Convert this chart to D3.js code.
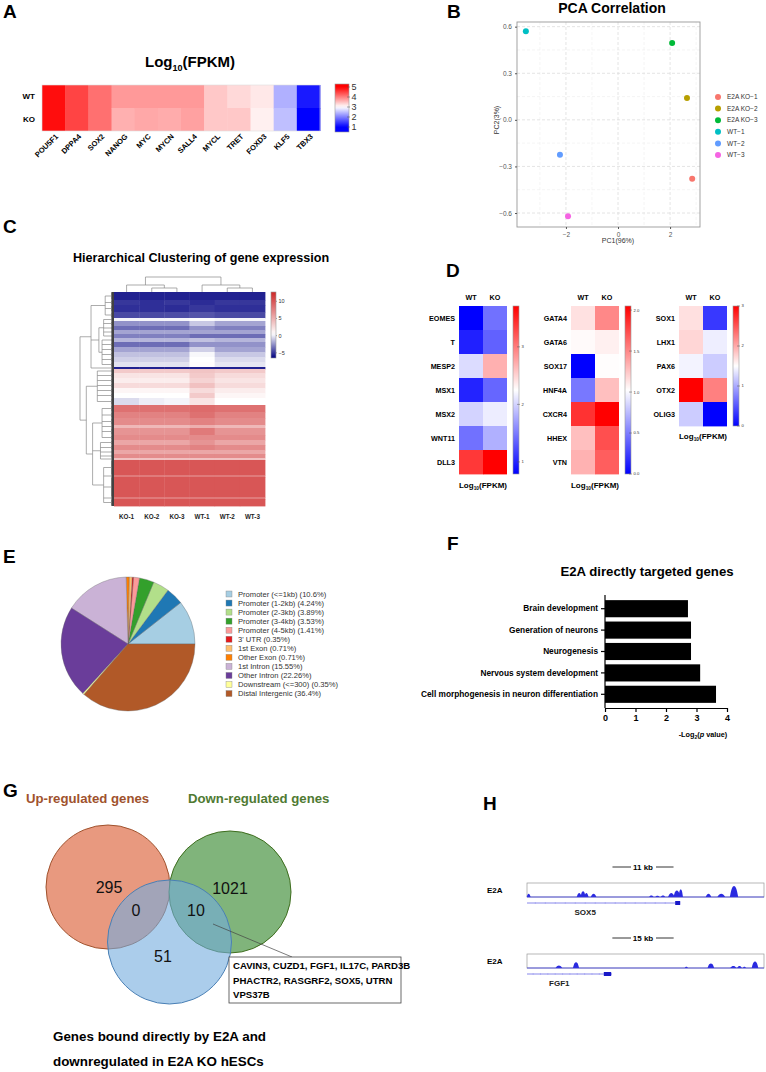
<!DOCTYPE html>
<html><head><meta charset="utf-8">
<script src="https://cdn.jsdelivr.net/npm/d3@7"></script>
<style>body{margin:0;background:#fff}svg{display:block;font-family:"Liberation Sans",Arial,Helvetica,sans-serif}</style>
</head><body>
<svg id="fig" width="766" height="1072"></svg>
<script>
// ---------------- DATA ----------------
// Panel A
const genesA = ["POU5F1","DPPA4","SOX2","NANOG","MYC","MYCN","SALL4","MYCL","TRET","FOXD3","KLF5","TBX3"];
const wtA = [4.9,4.47,4.12,3.8,3.8,3.8,3.8,3.43,3.3,3.18,2.38,1.2];
const koA = [4.9,4.47,4.12,3.62,3.68,3.65,3.74,3.43,3.43,3.12,2.5,1.0];
const ticksA = [1,2,3,4,5];
// Panel B
const pcaSamples = ["E2A KO\u22121","E2A KO\u22122","E2A KO\u22123","WT\u22121","WT\u22122","WT\u22123"];
const pc1 = [2.85,2.65,2.08,-3.54,-2.23,-1.92];
const pc2 = [-0.38,0.14,0.494,0.571,-0.225,-0.62];
const pcaColors = ["#F8766D","#B79F00","#00BA38","#00BFC4","#619CFF","#F564E3"];
const pc1Ticks = [-2,0,2];
const pc2Ticks = [-0.6,-0.3,0,0.3,0.6];
// Panel C (bands of genes: gene count, values for KO-1..WT-3)
const samplesC = ["KO-1","KO-2","KO-3","WT-1","WT-2","WT-3"];
const bandRows = [8,5,7,6,3,5,4,4,4,4,5,5,5,5,5,2,4,5,5,5,5,5,7,7,6,7,3,7,5,5,5,4,4,2,15,2,20,2,7];
const bandVals = [
 [-5.6,-5.6,-5.6,-5.6,-5.6,-5.6],[-5.0,-5.2,-5.0,-5.3,-5.0,-5.0],[-5.2,-5.2,-5.3,-5.0,-5.2,-5.2],[-4.5,-4.5,-4.4,-4.2,-4.5,-4.5],
 [0.2,0.2,0.2,0.4,0.2,0.2],[-2.5,-2.5,-2.5,-1.0,-2.0,-2.0],[-3.5,-3.5,-3.5,-2.5,-3.0,-3.0],[-2.0,-2.0,-2.0,-2.0,-2.0,-2.0],
 [-3.0,-3.0,-3.0,-3.5,-3.5,-3.5],[-1.5,-1.5,-1.5,-1.2,-1.5,-1.5],[-3.5,-3.5,-3.5,-2.5,-2.5,-2.5],[-2.0,-2.0,-2.0,-0.8,-2.0,-2.0],
 [-1.2,-1.2,-1.2,0.3,-1.0,-1.0],[-0.8,-0.8,-0.8,0.5,-0.5,-0.5],[-0.3,-0.3,-0.3,0.6,-0.2,-0.2],[-5.6,-5.6,-5.6,-5.6,-5.6,-5.6],
 [3.5,3.5,3.5,3.8,3.5,3.5],[2.0,2.0,2.0,3.5,2.5,2.5],[1.5,1.5,1.5,3.0,2.0,2.0],[2.5,2.5,2.5,4.0,2.5,2.5],
 [1.0,1.0,1.0,2.5,1.5,1.5],[0.5,0.5,0.5,3.5,1.0,1.0],[-0.5,0.0,0.2,2.0,0.5,0.5],[8.5,8.5,8.5,8.8,8.5,8.5],
 [7.5,7.5,7.5,8.5,7.5,7.5],[7.0,7.0,7.0,7.5,7.0,7.0],[4.5,4.5,4.5,5.0,4.5,4.5],[6.5,6.5,6.5,8.0,6.5,6.5],
 [7.0,7.0,7.0,7.0,7.0,7.0],[5.5,5.5,5.5,6.5,5.5,5.5],[7.0,7.0,7.0,7.5,7.0,7.0],[5.5,5.5,5.5,5.5,5.5,5.5],
 [7.0,7.0,7.0,7.0,7.0,7.0],[4.0,4.0,4.0,4.0,4.0,4.0],[10,10,10,10,10,10],[8.0,8.0,8.0,8.0,8.0,8.0],
 [10,10,10,10,10,10],[8.0,8.0,8.0,8.0,8.0,8.0],[10,10,10,10,10,10]];
const ticksC = [-5,0,5,10];
const rowTree = {h:10,c:[
  {h:6.5,c:[{h:2,c:[0,1,2,3]},{h:4,c:[{h:2.5,c:[4,5,6,7,8]},{h:3,c:[9,10,11,12,13,14]}]},15]},
  {h:8,c:[{h:4.5,c:[16,17,18,19,20,21,22]},{h:6,c:[{h:3,c:[23,24,25,26,27,28]},{h:3.5,c:[29,30,31,32,33]},{h:2.5,c:[34,35,36,37,38]}]}]}]};
const colTree = {h:3,c:[{h:1.4,c:[0,{h:0.8,c:[1,2]}]},{h:1.4,c:[3,{h:0.8,c:[4,5]}]}]};
// Panel D
const genesD1 = ["EOMES","T","MESP2","MSX1","MSX2","WNT11","DLL3"];
const wtD1 = [0.8,0.98,2.05,1.0,2.0,1.44,3.38];
const koD1 = [1.44,1.35,2.7,1.38,2.15,1.8,3.7];
const genesD2 = ["GATA4","GATA6","SOX17","HNF4A","CXCR4","HHEX","VTN"];
const wtD2 = [1.14,1.04,0.0,0.48,1.85,1.28,1.33];
const koD2 = [1.5,1.08,1.03,1.28,2.05,1.73,1.67];
const genesD3 = ["SOX1","LHX1","PAX6","OTX2","OLIG3"];
const wtD3 = [1.68,1.74,1.43,3.0,1.2];
const koD3 = [0.33,1.4,1.2,2.25,0.0];
const ticksD1 = [1,2,3], ticksD2 = [0,0.5,1.0,1.5,2.0], ticksD3 = [0,1,2,3];
// Panel E
const annoLabels = ["Promoter (<=1kb)","Promoter (1-2kb)","Promoter (2-3kb)","Promoter (3-4kb)","Promoter (4-5kb)","3' UTR","1st Exon","Other Exon","1st Intron","Other Intron","Downstream (<=300)","Distal Intergenic"];
const annoPct = [10.6,4.24,3.89,3.53,1.41,0.35,0.71,0.71,15.55,22.26,0.35,36.4];
const annoColors = ["#A6CEE3","#1F78B4","#B2DF8A","#33A02C","#FB9A99","#E31A1C","#FDBF6F","#FF7F00","#CAB2D6","#6A3D9A","#FFFF99","#B15928"];
// Panel F
const goTerms = ["Brain development","Generation of neurons","Neurogenesis","Nervous system development","Cell morphogenesis in neuron differentiation"];
const goScores = [2.72,2.82,2.82,3.12,3.64];
const goTicks = [0,1,2,3,4];
// Panel G
const vennSets = ["Up-regulated genes","Down-regulated genes","E2A bound"];
const vennCounts = {up:295, down:1021, upBound:0, downBound:10, bound:51};
const overlapGenes = ["CAVIN3, CUZD1, FGF1, IL17C, PARD3B","PHACTR2, RASGRF2, SOX5, UTRN","VPS37B"];
// Panel H (peak centre kb, width kb, relative height)
const sox5Peaks = [[0.3,0.7,0.25],[9.4,0.9,0.3],[10.1,0.9,0.45],[10.7,0.8,0.3],[12.0,1.0,0.25],[22.4,0.8,0.12],[23.5,0.8,0.1],[24.5,0.8,0.12],[26.0,1.2,0.3],[27.0,1.2,0.5],[27.7,0.8,0.6],[32.7,1.0,0.25],[35.0,1.4,0.25],[37.3,1.5,0.85]];
const fgf1Peaks = [[7.8,1.6,0.2],[12.0,1.5,0.45],[39.0,0.8,0.1],[45.0,1.6,0.35],[50.5,1.6,0.15],[52.0,1.2,0.15],[53.2,0.8,0.1],[55.8,1.6,0.5]];
const sox5Window = 42.7, fgf1Window = 58;
const sox5Gene = {start:0, end:27.6, exonStart:26.7, exonEnd:27.6};
const fgf1Gene = {start:0, end:20.8, exonStart:18.8, exonEnd:20.6};

// ---------------- DRAW ----------------
const svg = d3.select("#fig");
const blueWhiteRed = ["#0000ff","#ffffff","#ff0000"];

function panelLabel(t,x,y){svg.append("text").attr("x",x).attr("y",y).attr("font-size",19).attr("font-weight","bold").text(t);}
panelLabel("A",3,18); panelLabel("B",447,18); panelLabel("C",3,233); panelLabel("D",446,277);
panelLabel("E",3,563); panelLabel("F",447,550); panelLabel("G",3,797); panelLabel("H",483,810);

function log10Label(g,x,y,size){
  const t=g.append("text").attr("x",x).attr("y",y).attr("text-anchor","middle").attr("font-weight","bold").attr("font-size",size);
  t.append("tspan").text("Log");
  t.append("tspan").attr("font-size",size*0.6).attr("dy",size*0.25).text("10");
  t.append("tspan").attr("dy",-size*0.25).text("(FPKM)");
}

function colorbar(g,x,w,y0,y1,domain,color,ticks,fmt,fs,id,tickLen){
  const ys=d3.scaleLinear().domain(domain).range([y1,y0]);
  const grad=svg.append("defs").append("linearGradient").attr("id",id).attr("x1",0).attr("x2",0).attr("y1",1).attr("y2",0);
  d3.range(0,1.0001,0.05).forEach(f=>{grad.append("stop").attr("offset",f).attr("stop-color",color(domain[0]+f*(domain[1]-domain[0])));});
  g.append("rect").attr("x",x).attr("y",y0).attr("width",w).attr("height",y1-y0).attr("fill",`url(#${id})`).attr("stroke","#999").attr("stroke-width",0.6);
  ticks.forEach(t=>{
    g.append("line").attr("x1",x+w-tickLen).attr("x2",x+w+1).attr("y1",ys(t)).attr("y2",ys(t)).attr("stroke","#555").attr("stroke-width",0.5);
    g.append("text").attr("x",x+w+2.5).attr("y",ys(t)).attr("dy","0.35em").attr("font-size",fs).attr("fill","#333").text(fmt(t));
  });
}

// ===== Panel A =====
{
  const g=svg.append("g");
  const x=d3.scaleBand().domain(genesA).range([42,320]);
  const y=d3.scaleBand().domain(["WT","KO"]).range([85,131]);
  const col=d3.scaleLinear().domain([1,3,5]).range(blueWhiteRed).clamp(true);
  log10Label(g,190,67,15);
  genesA.forEach((gn,i)=>{
    g.append("rect").attr("x",x(gn)).attr("y",y("WT")).attr("width",x.bandwidth()+0.5).attr("height",y.bandwidth()+0.5).attr("fill",col(wtA[i]));
    g.append("rect").attr("x",x(gn)).attr("y",y("KO")).attr("width",x.bandwidth()+0.5).attr("height",y.bandwidth()).attr("fill",col(koA[i]));
    g.append("text").attr("transform",`translate(${x(gn)+x.bandwidth()/2+5},${137}) rotate(-45)`).attr("text-anchor","end")
      .attr("font-size",7.5).attr("font-weight","bold").text(gn);
  });
  g.append("rect").attr("x",42).attr("y",85).attr("width",278).attr("height",46).attr("fill","none").attr("stroke","#ddd").attr("stroke-width",0.6);
  ["WT","KO"].forEach(r=>g.append("text").attr("x",35).attr("y",y(r)+y.bandwidth()/2).attr("dy","0.35em").attr("text-anchor","end").attr("font-size",8).attr("font-weight","bold").text(r));
  colorbar(g,335,14,84,132,[0.5,5.3],col,ticksA,d3.format("d"),9,"gA",2);
}

// ===== Panel B =====
{
  const g=svg.append("g");
  const x=d3.scaleLinear().domain([-3.88,3.15]).range([517,700]);
  const y=d3.scaleLinear().domain([-0.69,0.63]).range([227,22]);
  g.append("text").attr("x",612).attr("y",13).attr("text-anchor","middle").attr("font-size",14).attr("font-weight","bold").text("PCA Correlation");
  const minorX=[-3,-1,1,3], minorY=[-0.45,-0.15,0.15,0.45];
  minorX.forEach(v=>g.append("line").attr("x1",x(v)).attr("x2",x(v)).attr("y1",22).attr("y2",227).attr("stroke","#eee").attr("stroke-dasharray","3,2").attr("stroke-width",0.6));
  minorY.forEach(v=>g.append("line").attr("x1",517).attr("x2",700).attr("y1",y(v)).attr("y2",y(v)).attr("stroke","#eee").attr("stroke-dasharray","3,2").attr("stroke-width",0.6));
  pc1Ticks.forEach(v=>g.append("line").attr("x1",x(v)).attr("x2",x(v)).attr("y1",22).attr("y2",227).attr("stroke","#ddd").attr("stroke-dasharray","3,2").attr("stroke-width",0.8));
  pc2Ticks.forEach(v=>g.append("line").attr("x1",517).attr("x2",700).attr("y1",y(v)).attr("y2",y(v)).attr("stroke","#ddd").attr("stroke-dasharray","3,2").attr("stroke-width",0.8));
  g.append("rect").attr("x",517).attr("y",22).attr("width",183).attr("height",205).attr("fill","none").attr("stroke","#999").attr("stroke-width",0.9);
  const ax=g.append("g").attr("transform","translate(0,227)").call(d3.axisBottom(x).tickValues(pc1Ticks).tickSize(2).tickFormat(d3.format("d")));
  const ay=g.append("g").attr("transform","translate(517,0)").call(d3.axisLeft(y).tickValues(pc2Ticks).tickSize(2).tickFormat(d3.format(".1f")));
  [ax,ay].forEach(a=>{a.select(".domain").remove();a.selectAll("line").attr("stroke","#555");a.selectAll("text").attr("font-size",6.5).attr("fill","#555").attr("font-family",null);});
  g.append("text").attr("x",618).attr("y",243).attr("text-anchor","middle").attr("font-size",7).attr("fill","#333").text("PC1(96%)");
  g.append("text").attr("transform","translate(499,120) rotate(-90)").attr("text-anchor","middle").attr("font-size",7).attr("fill","#333").text("PC2(3%)");
  pcaSamples.forEach((s,i)=>{
    g.append("circle").attr("cx",x(pc1[i])).attr("cy",y(pc2[i])).attr("r",3).attr("fill",pcaColors[i]);
    g.append("circle").attr("cx",718).attr("cy",97+i*11.6).attr("r",3).attr("fill",pcaColors[i]);
    g.append("text").attr("x",727).attr("y",97+i*11.6).attr("dy","0.35em").attr("font-size",6.5).attr("fill","#333").text(s);
  });
}

// ===== Panel C =====
{
  const g=svg.append("g");
  g.append("text").attr("x",201).attr("y",262).attr("text-anchor","middle").attr("font-size",12.6).attr("font-weight","bold").text("Hierarchical Clustering of gene expression");
  const x=d3.scaleBand().domain(samplesC).range([114,265]);
  const total=d3.sum(bandRows);
  const y=d3.scaleLinear().domain([0,total]).range([292,506]);
  const col=d3.scaleLinear().domain([-6.5,0.5,12.7]).range(["#000080","#ffffff","#CD2626"]).clamp(true);
  let cum=0; const bandCenter=[];
  bandRows.forEach((n,b)=>{
    bandVals[b].forEach((v,j)=>{
      g.append("rect").attr("x",x(samplesC[j])).attr("y",y(cum)).attr("width",x.bandwidth()+0.4).attr("height",y(cum+n)-y(cum)+0.4).attr("fill",col(v));
    });
    bandCenter.push(y(cum+n/2));
    // leaf stubs for each gene row
    for(let k=0;k<n;k++){
      g.append("line").attr("x1",111.5).attr("x2",114).attr("y1",y(cum+k+0.5)).attr("y2",y(cum+k+0.5)).attr("stroke","#111").attr("stroke-width",0.8);
    }
    // small sub-branches joining gene rows of the band
    g.append("line").attr("x1",111.5).attr("x2",111.5).attr("y1",y(cum+0.5)).attr("y2",y(cum+n-0.5)).attr("stroke","#555").attr("stroke-width",0.6);
    cum+=n;
  });
  // row dendrogram
  const hx=d3.scaleLinear().domain([0,10]).range([111.5,80]);
  function drawRow(node){
    if(typeof node==="number") return {pos:bandCenter[node],h:0};
    const kids=node.c.map(drawRow);
    const ps=kids.map(k=>k.pos);
    kids.forEach(k=>g.append("line").attr("x1",hx(k.h)).attr("x2",hx(node.h)).attr("y1",k.pos).attr("y2",k.pos).attr("stroke","#888").attr("stroke-width",0.7));
    g.append("line").attr("x1",hx(node.h)).attr("x2",hx(node.h)).attr("y1",d3.min(ps)).attr("y2",d3.max(ps)).attr("stroke","#888").attr("stroke-width",0.7);
    return {pos:d3.mean([d3.min(ps),d3.max(ps)]),h:node.h};
  }
  drawRow(rowTree);
  // column dendrogram
  const hy=d3.scaleLinear().domain([0,3]).range([292,277]);
  function drawCol(node){
    if(typeof node==="number") return {pos:x(samplesC[node])+x.bandwidth()/2,h:0};
    const kids=node.c.map(drawCol);
    const ps=kids.map(k=>k.pos);
    kids.forEach(k=>g.append("line").attr("x1",k.pos).attr("x2",k.pos).attr("y1",hy(k.h)).attr("y2",hy(node.h)).attr("stroke","#888").attr("stroke-width",0.7));
    g.append("line").attr("x1",d3.min(ps)).attr("x2",d3.max(ps)).attr("y1",hy(node.h)).attr("y2",hy(node.h)).attr("stroke","#888").attr("stroke-width",0.7);
    return {pos:d3.mean([d3.min(ps),d3.max(ps)]),h:node.h};
  }
  drawCol(colTree);
  samplesC.forEach(s=>g.append("text").attr("x",x(s)+x.bandwidth()/2).attr("y",519).attr("text-anchor","middle").attr("font-size",6.3).attr("font-weight","bold").attr("fill","#222").text(s));
  colorbar(g,271,5,292,358,[-6.5,12.7],col,ticksC,d3.format("d"),5.5,"gC",0);
}

// ===== Panel D =====
function heatD(genes,wt,ko,x0,domainMid,cbX,cbDomain,ticks,fmt,id,labelY){
  const g=svg.append("g");
  const x=d3.scaleBand().domain(["WT","KO"]).range([x0,x0+48]);
  const y=d3.scaleBand().domain(genes).range([306,306+24*genes.length]);
  const col=d3.scaleLinear().domain(domainMid).range(blueWhiteRed).clamp(true);
  genes.forEach((gn,i)=>{
    g.append("rect").attr("x",x("WT")).attr("y",y(gn)).attr("width",x.bandwidth()+0.4).attr("height",y.bandwidth()+0.4).attr("fill",col(wt[i]));
    g.append("rect").attr("x",x("KO")).attr("y",y(gn)).attr("width",x.bandwidth()).attr("height",y.bandwidth()+0.4).attr("fill",col(ko[i]));
    g.append("text").attr("x",x0-4).attr("y",y(gn)+y.bandwidth()/2).attr("dy","0.35em").attr("text-anchor","end").attr("font-size",7.2).attr("font-weight","bold").text(gn);
  });
  ["WT","KO"].forEach(c=>g.append("text").attr("x",x(c)+x.bandwidth()/2).attr("y",300).attr("text-anchor","middle").attr("font-size",7.2).attr("font-weight","bold").text(c));
  colorbar(g,cbX,6,306,306+24*genes.length,cbDomain,col,ticks,fmt,4.2,id,2);
  log10Label(g,x0+24,labelY,8);
}
heatD(genesD1,wtD1,koD1,459,[0.8,2.25,3.7],513,[0.79,3.71],ticksD1,d3.format("d"),"gD1",488);
heatD(genesD2,wtD2,koD2,571,[0,1.02,2.05],625,[0,2.05],ticksD2,d3.format(".1f"),"gD2",488);
heatD(genesD3,wtD3,koD3,679,[0,1.5,3],733,[0,3],ticksD3,d3.format("d"),"gD3",439);

// ===== Panel E =====
{
  const g=svg.append("g").attr("transform","translate(128,644)");
  const pie=d3.pie().sort(null).value(d=>d).startAngle(Math.PI/2).endAngle(Math.PI/2-2*Math.PI);
  const arc=d3.arc().innerRadius(0).outerRadius(67);
  g.selectAll("path").data(pie(annoPct)).join("path").attr("d",arc).attr("fill",(d,i)=>annoColors[i]).attr("stroke","#666").attr("stroke-width",0.35);
  const lg=svg.append("g");
  annoLabels.forEach((l,i)=>{
    const yy=594+i*9.05;
    lg.append("rect").attr("x",226).attr("y",yy-3).attr("width",6).attr("height",6).attr("fill",annoColors[i]).attr("stroke","#888").attr("stroke-width",0.4);
    lg.append("text").attr("x",238).attr("y",yy).attr("dy","0.35em").attr("font-size",7.6).attr("fill","#333").text(`${l} (${annoPct[i]}%)`);
  });
}

// ===== Panel F =====
{
  const g=svg.append("g");
  g.append("text").attr("x",647).attr("y",576).attr("text-anchor","middle").attr("font-size",13.2).attr("font-weight","bold").text("E2A directly targeted genes");
  const x=d3.scaleLinear().domain([0,4]).range([605,727]);
  const y=d3.scaleBand().domain(goTerms).range([598,705]).paddingInner(0.2).paddingOuter(0.1);
  goTerms.forEach((t,i)=>g.append("rect").attr("x",x(0)).attr("y",y(t)).attr("width",x(goScores[i])-x(0)).attr("height",y.bandwidth()).attr("fill","#000"));
  const ay=g.append("g").attr("transform","translate(605,0)").call(d3.axisLeft(y).tickSize(4).tickSizeOuter(0));
  ay.select(".domain").attr("d","M0,595V708");
  const ax=g.append("g").attr("transform","translate(0,708)").call(d3.axisBottom(x).tickValues(goTicks).tickSize(4).tickSizeOuter(0).tickFormat(d3.format("d")));
  [ax,ay].forEach(a=>{a.selectAll("path,line").attr("stroke","#000").attr("stroke-width",1.2);a.selectAll("text").attr("font-size",8.3).attr("font-weight","bold").attr("fill","#000").attr("font-family",null);});
  ax.selectAll("text").attr("font-size",9);
  const lab=g.append("text").attr("x",703).attr("y",737).attr("text-anchor","middle").attr("font-size",7.3).attr("font-weight","bold");
  lab.append("tspan").text("-Log");
  lab.append("tspan").attr("font-size",5).attr("dy",2).text("2");
  lab.append("tspan").attr("dy",-2).text("(");
  lab.append("tspan").attr("font-style","italic").text("p");
  lab.append("tspan").text(" value)");
}

// ===== Panel G =====
{
  const g=svg.append("g");
  g.append("text").attr("x",26).attr("y",803).attr("font-size",13.2).attr("font-weight","bold").attr("fill","#A0522D").text(vennSets[0]);
  g.append("text").attr("x",188).attr("y",803).attr("font-size",13.2).attr("font-weight","bold").attr("fill","#4F7A32").text(vennSets[1]);
  g.append("circle").attr("cx",108).attr("cy",887).attr("r",62).attr("fill","#E8997F").attr("stroke","#A0522D").attr("stroke-width",1);
  g.append("circle").attr("cx",230).attr("cy",892).attr("r",61).attr("fill","#80B47B").attr("stroke","#3F6E1F").attr("stroke-width",1);
  g.append("circle").attr("cx",169.5).attr("cy",942).attr("r",62).attr("fill","#73ACDE").attr("fill-opacity",0.6).attr("stroke","#4A80B5").attr("stroke-width",1);
  const num=(t,x,y)=>g.append("text").attr("x",x).attr("y",y).attr("text-anchor","middle").attr("font-size",16).attr("fill","#111").text(t);
  num(vennCounts.up,109,893); num(vennCounts.down,230,894); num(vennCounts.upBound,136,916); num(vennCounts.downBound,196,916); num(vennCounts.bound,163,962);
  g.append("line").attr("x1",213).attr("y1",924).attr("x2",292).attr("y2",957).attr("stroke","#444").attr("stroke-width",0.7);
  g.append("rect").attr("x",229).attr("y",957).attr("width",172).attr("height",46).attr("fill","#fff").attr("stroke","#444").attr("stroke-width",0.8);
  overlapGenes.forEach((t,i)=>g.append("text").attr("x",233).attr("y",969+i*14.5).attr("font-size",9.6).attr("font-weight","bold").text(t));
  g.append("text").attr("x",53).attr("y",1041).attr("font-size",13.4).attr("font-weight","bold").text("Genes bound directly by E2A and");
  g.append("text").attr("x",53).attr("y",1066).attr("font-size",13.4).attr("font-weight","bold").text("downregulated in E2A KO hESCs");
}

// ===== Panel H =====
function track(peaks,win,gene,geneName,scaleKb,top){
  const g=svg.append("g");
  const x=d3.scaleLinear().domain([0,win]).range([527,764]);
  const y=d3.scaleLinear().domain([0,1]).range([top+14,top+1]);
  const mid=643;
  g.append("text").attr("x",mid).attr("y",top-13).attr("text-anchor","middle").attr("font-size",8).attr("font-weight","bold").text(`${scaleKb} kb`);
  const sbw = x(scaleKb)-x(0);
  g.append("line").attr("x1",mid-sbw/2).attr("x2",mid-12).attr("y1",top-16).attr("y2",top-16).attr("stroke","#000").attr("stroke-width",0.8);
  g.append("line").attr("x1",mid+13).attr("x2",mid+sbw/2).attr("y1",top-16).attr("y2",top-16).attr("stroke","#000").attr("stroke-width",0.8);
  g.append("text").attr("x",487).attr("y",top+10).attr("font-size",8).attr("font-weight","bold").text("E2A");
  g.append("rect").attr("x",527).attr("y",top).attr("width",237).attr("height",14).attr("fill","#fff").attr("stroke","#999").attr("stroke-width",0.7);
  peaks.forEach(p=>{
    const [c,w,h]=p;
    const pts=[[c-w/2,0],[c-w/4,h*0.8],[c,h],[c+w/4,h*0.8],[c+w/2,0]];
    g.append("path").attr("d",d3.line().x(d=>x(d[0])).y(d=>y(d[1])).curve(d3.curveMonotoneX)(pts)).attr("fill","#2A2AE0");
  });
  g.append("line").attr("x1",527).attr("x2",764).attr("y1",y(0)).attr("y2",y(0)).attr("stroke","#3A3AE0").attr("stroke-width",0.8);
  const gy=top+20;
  g.append("line").attr("x1",x(gene.start)).attr("x2",x(gene.end)).attr("y1",gy).attr("y2",gy).attr("stroke","#6A6AE6").attr("stroke-width",0.8);
  d3.range(gene.start+1.5,gene.exonStart,1.8).forEach(v=>g.append("line").attr("x1",x(v)).attr("x2",x(v)).attr("y1",gy-1).attr("y2",gy+1).attr("stroke","#8A8AEE").attr("stroke-width",0.4));
  g.append("rect").attr("x",x(gene.exonStart)).attr("y",gy-2).attr("width",x(gene.exonEnd)-x(gene.exonStart)).attr("height",4).attr("fill","#1818C8");
  g.append("text").attr("x",x(gene.start)+(x(gene.end)-x(gene.start))*0.38).attr("y",gy+12).attr("text-anchor","middle").attr("font-size",8).attr("font-weight","bold").attr("fill","#222").text(geneName);
}
track(sox5Peaks,sox5Window,sox5Gene,"SOX5",11,883);
track(fgf1Peaks,fgf1Window,fgf1Gene,"FGF1",15,954);
</script>
</body></html>
